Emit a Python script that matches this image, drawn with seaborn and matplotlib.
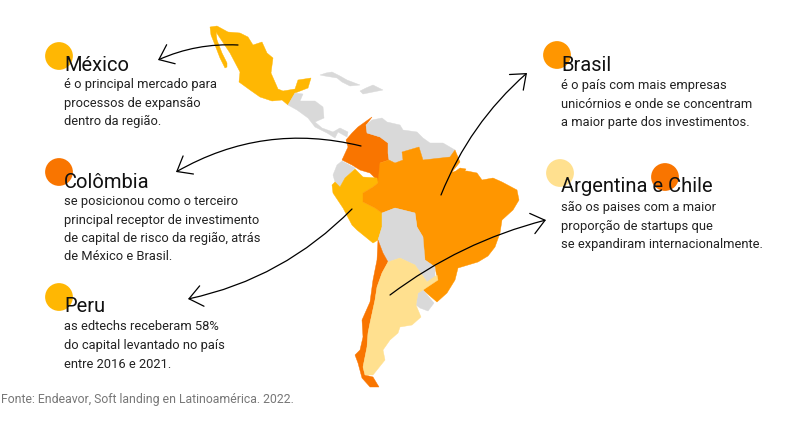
import matplotlib
matplotlib.use('Agg')
import matplotlib.pyplot as plt
import pandas as pd
import seaborn as sns

sns.set_theme(style='white')
plt.rcParams['font.family'] = ['Roboto', 'DejaVu Sans']

# cores
laranja_mx = '#FFB703'
laranja_co = '#F97500'
laranja_br = '#FF9600'
amarelo_ar = '#FFE08F'
cinza = '#D9D9D9'

# contornos dos paises (pixels da imagem)
mexico = [(210,27),(217,26),(228,32),(240,33),(248,37),(253,45),(262,42),(267,53),(273,58),(271,73),(278,89),(283,91),(295,89),(298,80),(311,78),(308,88),(295,93),(288,105),(282,100),(272,101),(260,97),(250,90),(239,82),(240,72),(230,53),(220,38),(216,32),(217,40),(222,53),(227,63),(227,67),(225,68),(220,58),(215,45),(211,35)]
america_central = [(295,93),(303,94),(300,101),(315,101),(323,107),(324,118),(315,122),(322,128),(333,132),(340,128),(348,132),(347,137),(338,132),(335,138),(327,133),(315,127),(308,118),(297,110),(288,105)]
cuba = [(320,75),(326,73),(332,72),(340,76),(347,80),(360,85),(350,86),(342,82),(337,78),(325,76)]
hispaniola = [(360,91),(366,88),(373,85),(383,90),(373,92),(363,94)]
colombia = [(372,117),(366,125),(367,133),(380,137),(388,143),(388,153),(389,160),(380,163),(380,177),(378,183),(375,178),(370,173),(360,170),(352,165),(342,160),(348,147),(346,140),(352,133),(358,127),(365,122)]
venezuela = [(372,120),(382,118),(387,122),(400,125),(403,130),(417,132),(423,138),(430,143),(443,143),(455,150),(452,158),(423,160),(419,147),(402,152),(403,160),(395,163),(389,160),(388,153),(388,143),(380,137),(367,133),(366,125)]
equador = [(333,175),(337,165),(342,161),(355,168),(345,178),(340,187),(335,182)]
peru = [(332,185),(335,182),(340,187),(345,178),(355,169),(363,177),(377,178),(378,183),(373,187),(363,193),(363,202),(375,208),(382,213),(382,227),(378,240),(373,243),(357,230),(352,225),(343,208),(333,193)]
brasil = [(363,193),(373,187),(378,183),(380,163),(389,160),(395,163),(403,160),(402,152),(419,147),(423,160),(450,157),(455,150),(460,162),(452,172),(467,171),(477,173),(482,180),(493,178),(502,182),(517,190),(519,200),(513,210),(502,220),(500,233),(495,247),(488,256),(478,262),(458,268),(455,280),(447,293),(437,302),(423,290),(437,277),(435,267),(425,260),(423,248),(423,237),(417,227),(415,213),(395,208),(382,213),(375,208),(363,202)]
marajo = [(453,173),(460,168),(466,169),(463,175),(457,175)]
bolivia_paraguai = [(382,213),(395,208),(415,213),(417,227),(423,237),(425,260),(435,267),(435,277),(427,282),(415,265),(400,258),(388,262),(383,253),(378,240),(382,227)]
uruguai = [(423,290),(434,303),(428,311),(420,308),(416,305),(418,293)]
argentina = [(388,262),(400,258),(415,265),(427,282),(437,275),(438,280),(423,290),(418,293),(416,305),(421,317),(412,325),(400,327),(398,333),(390,340),(383,350),(385,360),(373,375),(365,375),(363,367),(367,347),(368,333),(370,323),(375,300),(377,287),(382,273)]
chile = [(378,240),(383,253),(388,262),(382,273),(377,287),(375,300),(370,323),(368,333),(367,347),(363,367),(365,375),(373,377),(379,387),(370,387),(362,378),(358,363),(355,355),(360,350),(363,337),(362,320),(370,302),(373,280),(377,260)]

paises = [
    (mexico, laranja_mx), (america_central, cinza), (cuba, cinza), (hispaniola, cinza),
    (colombia, laranja_co), (venezuela, cinza), (equador, cinza), (peru, laranja_mx),
    (brasil, laranja_br), (marajo, laranja_br), (bolivia_paraguai, cinza), (uruguai, cinza),
    (chile, laranja_co), (argentina, amarelo_ar),
]

# circulos da legenda
circ_x = [59, 59, 59, 557, 560, 665]
circ_y = [56, 172, 297, 55, 173, 177]
circ_nome = ['México', 'Colômbia', 'Peru', 'Brasil', 'Argentina', 'Chile']
circ_cor = [laranja_mx, laranja_co, laranja_mx, laranja_br, amarelo_ar, laranja_co]

# setas: inicio, fim, curvatura
setas = [
    ((238, 45), (158, 60), 0.12),
    ((361, 146), (176, 172), 0.2),
    ((352, 209), (188, 299), -0.15),
    ((441, 195), (527, 73), -0.12),
    ((390, 295), (546, 220), -0.1),
]

# textos
titulos = [('México', 64, 65), ('Colômbia', 64, 182), ('Peru', 64, 307), ('Brasil', 561, 65), ('Argentina e Chile', 561, 186)]
corpos = [
    ('é o principal mercado para', 64, 84),
    ('processos de expansão', 64, 103),
    ('dentro da região.', 64, 121),
    ('se posicionou como o terceiro', 64, 201),
    ('principal receptor de investimento', 64, 220),
    ('de capital de risco da região, atrás', 64, 238),
    ('de México e Brasil.', 64, 256),
    ('as edtechs receberam 58%', 64, 327),
    ('do capital levantado no país', 64, 345),
    ('entre 2016 e 2021.', 64, 364),
    ('é o país com mais empresas', 561, 85),
    ('unicórnios e onde se concentram', 561, 104),
    ('a maior parte dos investimentos.', 561, 122),
    ('são os paises com a maior', 561, 207),
    ('proporção de startups que', 561, 226),
    ('se expandiram internacionalmente.', 561, 244),
]
fonte = 'Fonte: Endeavor, Soft landing en Latinoamérica. 2022.'

fig, ax = plt.subplots(figsize=(8, 4.25), dpi=100)
fig.subplots_adjust(0, 0, 1, 1)

for contorno, cor in paises:
    xs, ys = zip(*contorno)
    ax.fill(xs, ys, color=cor, lw=0.3, zorder=1)

df_circ = pd.DataFrame({'x': circ_x, 'y': circ_y, 'nome': circ_nome})
sns.scatterplot(data=df_circ, x='x', y='y', hue='nome', palette=circ_cor, s=400,
                linewidth=0, legend=False, ax=ax, zorder=2)

for inicio, fim, curva in setas:
    ax.annotate('', xy=fim, xytext=inicio, zorder=3,
                arrowprops=dict(arrowstyle='->,head_length=0.63,head_width=0.5', color='black', lw=0.9,
                                mutation_scale=15, shrinkA=0, shrinkB=0,
                                connectionstyle=f'arc3,rad={curva}'))

for txt, x, y in titulos:
    ax.text(x, y, txt, fontsize=14.5, color='#111111', va='center', ha='left', zorder=4)
for txt, x, y in corpos:
    ax.text(x, y, txt, fontsize=9.3, color='#222222', va='center', ha='left', zorder=4)
ax.text(1, 400, fonte, fontsize=8.85, color='#777777', va='center', ha='left', zorder=4)

ax.set_xlim(0, 800)
ax.set_ylim(425, 0)
ax.set_xlabel('')
ax.set_ylabel('')
ax.axis('off')
fig.savefig('out.png', dpi=100)
